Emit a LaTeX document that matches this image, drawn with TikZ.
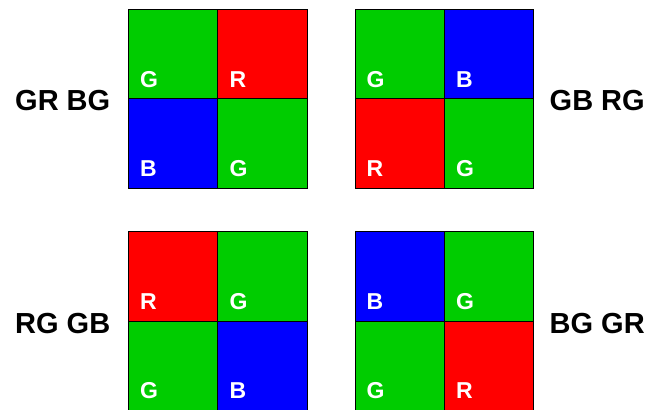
\documentclass[tikz,border=0pt]{standalone}
\usepackage{fontspec}
\setmainfont{Liberation Sans}
\definecolor{cG}{RGB}{0,204,0}
\definecolor{cR}{RGB}{255,0,0}
\definecolor{cB}{RGB}{0,0,255}
\tikzset{
  cell/.style={draw=black, line width=0.9pt, minimum size=89.4pt, inner sep=0pt, anchor=north west, outer sep=0pt},
  lett/.style={text=white, font=\bfseries\fontsize{23}{23}\selectfont, inner sep=0pt, anchor=base west},
  lab/.style={text=black, font=\bfseries\fontsize{29}{29}\selectfont, inner sep=0pt, anchor=base west}
}
\begin{document}
\begin{tikzpicture}[x=1pt,y=1pt]
\useasboundingbox (0,0) rectangle (657,410);
\foreach \n/\gx/\gy/\ca/\cb/\cc/\cd in {tl/128.5/400.7/G/R/B/G, tr/355/400.7/G/B/R/G, bl/128.5/178.3/R/G/G/B, br/355/178.3/B/G/G/R}{
  \node[cell, fill=c\ca] (\n a) at (\gx,\gy) {};
  \node[cell, fill=c\cb] (\n b) at (\gx+89.4,\gy) {};
  \node[cell, fill=c\cc] (\n c) at (\gx,\gy-89.4) {};
  \node[cell, fill=c\cd] (\n d) at (\gx+89.4,\gy-89.4) {};
  \node[lett] (\n la) at ([shift={(11.5,11.5)}]\n a.south west) {\ca};
  \node[lett] (\n lb) at ([shift={(11.5,11.5)}]\n b.south west) {\cb};
  \node[lett] (\n lc) at ([shift={(11.5,11.5)}]\n c.south west) {\cc};
  \node[lett] (\n ld) at ([shift={(11.5,11.5)}]\n d.south west) {\cd};
}
\node[lab] (ltl) at (15,299) {GR BG};
\node[lab] (ltr) at (549.5,299) {GB RG};
\node[lab] (lbl) at (15,76) {RG GB};
\node[lab] (lbr) at (549.5,76) {BG GR};
\end{tikzpicture}
\end{document}
